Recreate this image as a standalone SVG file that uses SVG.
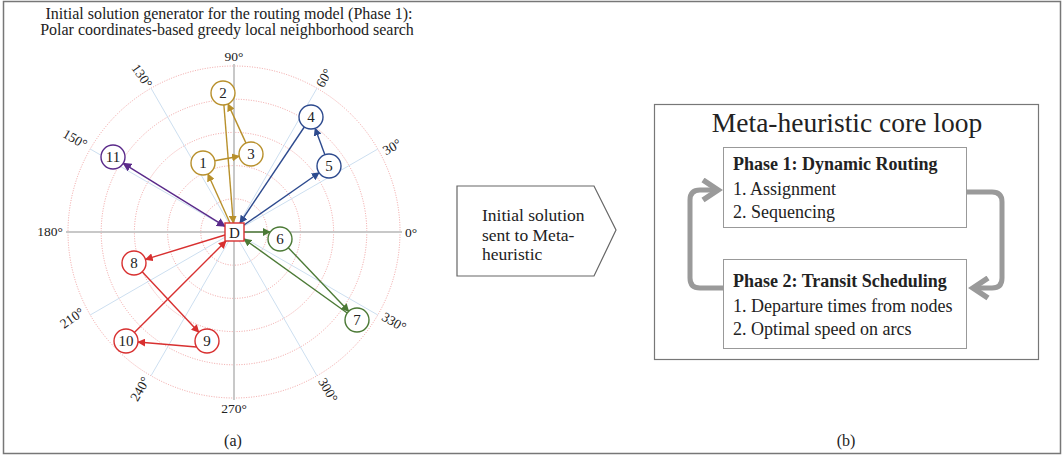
<svg xmlns="http://www.w3.org/2000/svg" width="1063" height="457" viewBox="0 0 1063 457">
<style>
text{font-family:"Liberation Serif","Times New Roman",serif;fill:#222}
.ring{fill:none;stroke:#ec8a8a;stroke-width:0.8;stroke-dasharray:1 1.5}
.axis{stroke:#c8c8c8;stroke-width:2}
.spoke{stroke:#cddff0;stroke-width:1}
.ang{font-size:13.5px;text-anchor:middle}
.nd{fill:#fff;stroke-width:1.4}
.nl{font-size:15px;text-anchor:middle}
.e{fill:none;stroke-width:1.4}
.box{fill:#fff;stroke:#999;stroke-width:1}
.loop{fill:none;stroke:#9a9a9a;stroke-width:5;stroke-linejoin:round}
.t1{font-size:18px}
.tb{font-size:18px;font-weight:bold}
</style>
<defs>
<marker id="ag" viewBox="0 0 10 10" refX="9" refY="5" markerWidth="8" markerHeight="8" markerUnits="userSpaceOnUse" orient="auto"><path d="M0,0 L10,5 L0,10 z" fill="#b8902c"/></marker>
<marker id="ab" viewBox="0 0 10 10" refX="9" refY="5" markerWidth="8" markerHeight="8" markerUnits="userSpaceOnUse" orient="auto"><path d="M0,0 L10,5 L0,10 z" fill="#2d4a8e"/></marker>
<marker id="agr" viewBox="0 0 10 10" refX="9" refY="5" markerWidth="8" markerHeight="8" markerUnits="userSpaceOnUse" orient="auto"><path d="M0,0 L10,5 L0,10 z" fill="#4c7a36"/></marker>
<marker id="ar" viewBox="0 0 10 10" refX="9" refY="5" markerWidth="8" markerHeight="8" markerUnits="userSpaceOnUse" orient="auto"><path d="M0,0 L10,5 L0,10 z" fill="#d83030"/></marker>
<marker id="ap" viewBox="0 0 10 10" refX="9" refY="5" markerWidth="9" markerHeight="9" markerUnits="userSpaceOnUse" orient="auto-start-reverse"><path d="M0,0 L10,5 L0,10 z" fill="#5a2a8a"/></marker>
<marker id="chev" viewBox="0 0 10 10" refX="8" refY="5" markerWidth="5" markerHeight="5" orient="auto"><path d="M2,1 L8,5 L2,9" fill="none" stroke="#9a9a9a" stroke-width="2.2"/></marker>
</defs>

<rect x="3.5" y="1.5" width="1057" height="452" fill="none" stroke="#777" stroke-width="1.5"/>

<g id="title">
<text x="229" y="19" font-size="16" text-anchor="middle">Initial solution generator for the routing model (Phase 1):</text>
<text x="227" y="35" font-size="16" text-anchor="middle">Polar coordinates-based greedy local neighborhood search</text>
</g>

<g id="polar-grid">
<circle class="ring" cx="234" cy="232" r="33.2"/>
<circle class="ring" cx="234" cy="232" r="66.4"/>
<circle class="ring" cx="234" cy="232" r="99.6"/>
<circle class="ring" cx="234" cy="232" r="132.8"/>
<circle class="ring" cx="234" cy="232" r="166"/>
<line class="spoke" x1="234" y1="232" x2="377.8" y2="149"/>
<line class="spoke" x1="234" y1="232" x2="317" y2="88.2"/>
<line class="spoke" x1="234" y1="232" x2="151" y2="88.2"/>
<line class="spoke" x1="234" y1="232" x2="90.2" y2="149"/>
<line class="spoke" x1="234" y1="232" x2="90.2" y2="315"/>
<line class="spoke" x1="234" y1="232" x2="151" y2="375.8"/>
<line class="spoke" x1="234" y1="232" x2="317" y2="375.8"/>
<line class="spoke" x1="234" y1="232" x2="377.8" y2="315"/>
<line class="axis" x1="66" y1="232" x2="402" y2="232"/>
<line class="axis" x1="234" y1="64" x2="234" y2="400"/>
<text class="ang" x="234" y="61">90°</text>
<text class="ang" x="411" y="237">0°</text>
<text class="ang" x="50" y="236">180°</text>
<text class="ang" x="234" y="413">270°</text>
<text class="ang" transform="translate(324,78) rotate(-60)" y="4.5">60°</text>
<text class="ang" transform="translate(392,147) rotate(-30)" y="4.5">30°</text>
<text class="ang" transform="translate(142,76) rotate(55)" y="4.5">130°</text>
<text class="ang" transform="translate(75,139) rotate(30)" y="4.5">150°</text>
<text class="ang" transform="translate(72,318) rotate(-35)" y="4.5">210°</text>
<text class="ang" transform="translate(140,389) rotate(-60)" y="4.5">240°</text>
<text class="ang" transform="translate(328,390) rotate(60)" y="4.5">300°</text>
<text class="ang" transform="translate(394,322) rotate(30)" y="4.5">330°</text>
</g>

<g id="connectors">
<line class="e" stroke="#b8902c" x1="230" y1="223" x2="207.9" y2="174" marker-end="url(#ag)"/>
<line class="e" stroke="#b8902c" x1="214.8" y1="160.8" x2="239.2" y2="156.2" marker-end="url(#ag)"/>
<line class="e" stroke="#b8902c" x1="246" y1="143.1" x2="228" y2="103.9" marker-end="url(#ag)"/>
<line class="e" stroke="#b8902c" x1="223.9" y1="105" x2="233.3" y2="223" marker-end="url(#ag)"/>
<line class="e" stroke="#2d4a8e" x1="244" y1="225" x2="319.1" y2="172.8" marker-end="url(#ab)"/>
<line class="e" stroke="#2d4a8e" x1="324.9" y1="154.7" x2="315.1" y2="128.3" marker-end="url(#ab)"/>
<line class="e" stroke="#2d4a8e" x1="304.3" y1="127" x2="240" y2="223" marker-end="url(#ab)"/>
<line class="e" stroke="#4c7a36" x1="244" y1="232" x2="270" y2="232" marker-end="url(#agr)"/>
<line class="e" stroke="#4c7a36" x1="288.3" y1="247.7" x2="348.7" y2="311.3" marker-end="url(#agr)"/>
<line class="e" stroke="#4c7a36" x1="347.2" y1="313" x2="244" y2="239" marker-end="url(#agr)"/>
<line class="e" stroke="#d83030" x1="225" y1="235" x2="145.5" y2="259.4" marker-end="url(#ar)"/>
<line class="e" stroke="#d83030" x1="142.2" y1="271.8" x2="198.8" y2="332.2" marker-end="url(#ar)"/>
<line class="e" stroke="#d83030" x1="196.5" y1="347" x2="138" y2="342" marker-end="url(#ar)"/>
<line class="e" stroke="#d83030" x1="134.4" y1="332.5" x2="226" y2="241" marker-end="url(#ar)"/>
<line class="e" stroke="#5a2a8a" x1="123.2" y1="163.3" x2="225" y2="226.4" marker-start="url(#ap)" marker-end="url(#ap)"/>
</g>

<g id="node-D"><rect class="nd" stroke="#d83030" x="225" y="223" width="19" height="18"/><text class="nl" x="234.5" y="237.5">D</text></g>
<g id="node-1"><circle class="nd" stroke="#b8902c" cx="203" cy="163" r="12"/><text class="nl" x="203" y="168">1</text></g>
<g id="node-2"><circle class="nd" stroke="#b8902c" cx="223" cy="93" r="12"/><text class="nl" x="223" y="98">2</text></g>
<g id="node-3"><circle class="nd" stroke="#b8902c" cx="251" cy="154" r="12"/><text class="nl" x="251" y="159">3</text></g>
<g id="node-4"><circle class="nd" stroke="#2d4a8e" cx="311" cy="117" r="12"/><text class="nl" x="311" y="122">4</text></g>
<g id="node-5"><circle class="nd" stroke="#2d4a8e" cx="329" cy="166" r="12"/><text class="nl" x="329" y="171">5</text></g>
<g id="node-6"><circle class="nd" stroke="#4c7a36" cx="280" cy="239" r="12"/><text class="nl" x="280" y="244">6</text></g>
<g id="node-7"><circle class="nd" stroke="#4c7a36" cx="357" cy="320" r="12"/><text class="nl" x="357" y="325">7</text></g>
<g id="node-8"><circle class="nd" stroke="#d83030" cx="134" cy="263" r="12"/><text class="nl" x="134" y="268">8</text></g>
<g id="node-9"><circle class="nd" stroke="#d83030" cx="207" cy="341" r="12"/><text class="nl" x="207" y="346">9</text></g>
<g id="node-10"><circle class="nd" stroke="#d83030" cx="126" cy="341" r="12"/><text class="nl" x="126" y="346">10</text></g>
<g id="node-11"><circle class="nd" stroke="#5a2a8a" cx="113" cy="157" r="12"/><text class="nl" x="113" y="162">11</text></g>

<g id="node-handoff">
<path d="M457,186 L594,186 L616,230 L594,276 L457,276 Z" fill="#fff" stroke="#666" stroke-width="1.2"/>
<text x="482" y="221" font-size="17.5">Initial solution</text>
<text x="482" y="241" font-size="17.5">sent to Meta-</text>
<text x="482" y="260" font-size="17.5">heuristic</text>
</g>

<g id="node-core">
<rect x="654.5" y="104.5" width="384" height="255" fill="#fff" stroke="#777" stroke-width="1.2"/>
<text x="847" y="132" font-size="27.5" text-anchor="middle">Meta-heuristic core loop</text>
</g>

<g id="loop-arrows">
<path class="loop" d="M723,288 L700,288 Q690,288 690,278 L690,200 Q690,190 700,190 L718,190" marker-end="url(#chev)"/>
<path class="loop" d="M966,192 L992,192 Q1002,192 1002,202 L1002,278 Q1002,288 992,288 L973,288" marker-end="url(#chev)"/>
</g>

<g id="node-phase1">
<rect class="box" x="723.5" y="147.5" width="243" height="80"/>
<text class="tb" x="733" y="170">Phase 1: Dynamic Routing</text>
<text class="t1" x="733" y="195">1. Assignment</text>
<text class="t1" x="733" y="218">2. Sequencing</text>
</g>

<g id="node-phase2">
<rect class="box" x="723.5" y="259.5" width="243" height="89"/>
<text class="tb" x="733" y="287">Phase 2: Transit Scheduling</text>
<text class="t1" x="733" y="312">1. Departure times from nodes</text>
<text class="t1" x="733" y="335">2. Optimal speed on arcs</text>
</g>

<g id="captions">
<text x="233" y="446" font-size="16" text-anchor="middle">(a)</text>
<text x="846" y="446" font-size="16" text-anchor="middle">(b)</text>
</g>
</svg>
